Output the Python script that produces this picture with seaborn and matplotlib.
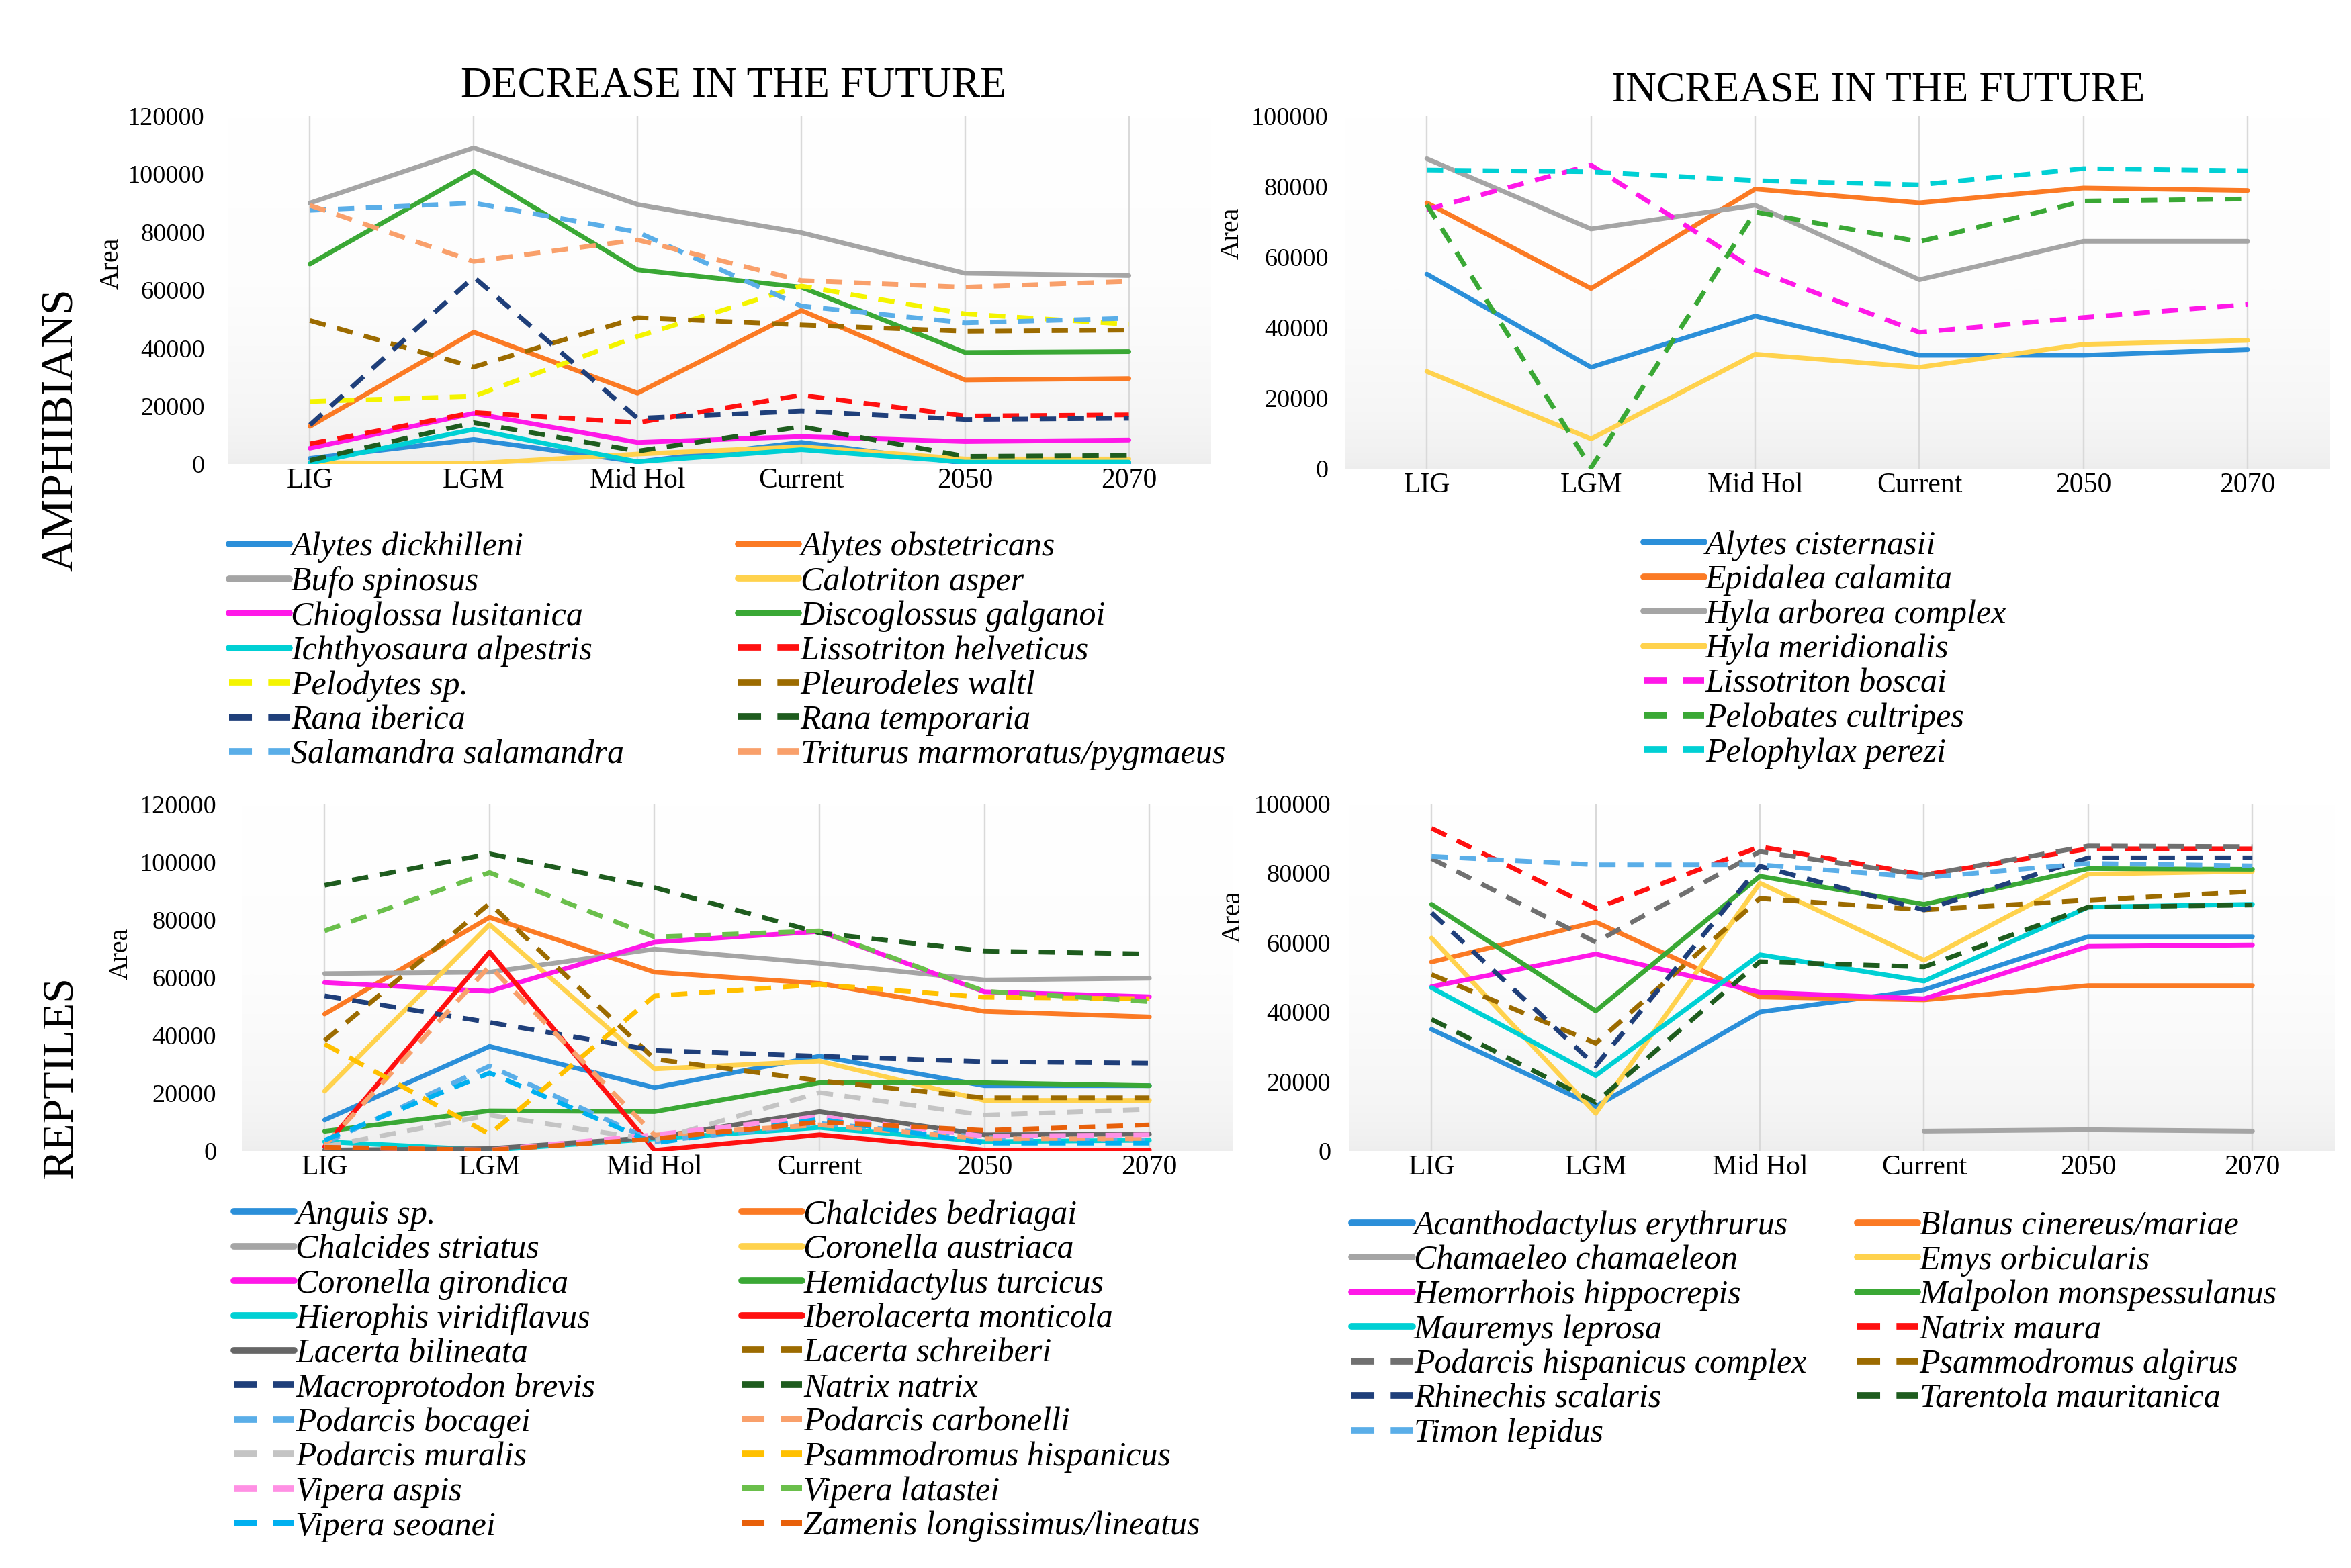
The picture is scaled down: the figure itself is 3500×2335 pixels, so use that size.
import numpy as np
import pandas as pd
import matplotlib
matplotlib.use("Agg")
import matplotlib.pyplot as plt
from matplotlib.lines import Line2D
from matplotlib.colors import LinearSegmentedColormap
import seaborn as sns

# ---------------- data ----------------
PERIODS = ["LIG", "LGM", "Mid Hol", "Current", "2050", "2070"]

# Amphibians - decrease in the future
amph_dec_species = [
    "Alytes dickhilleni", "Alytes obstetricans", "Bufo spinosus", "Calotriton asper",
    "Chioglossa lusitanica", "Discoglossus galganoi", "Ichthyosaura alpestris",
    "Lissotriton helveticus", "Pelodytes sp.", "Pleurodeles waltl", "Rana iberica",
    "Rana temporaria", "Salamandra salamandra", "Triturus marmoratus/pygmaeus",
]
amph_dec_values = [
    [2000, 8500, 800, 7500, 300, 300],
    [13000, 45500, 24500, 53000, 29000, 29500],
    [90000, 109000, 89500, 79800, 65800, 65000],
    [500, 200, 3500, 6000, 1800, 1800],
    [5500, 17500, 7500, 9500, 7800, 8300],
    [69000, 101000, 67000, 61000, 38500, 38800],
    [300, 12000, 800, 5000, 700, 700],
    [7000, 17800, 14300, 23800, 16600, 17000],
    [21600, 23400, 44000, 61400, 51800, 48200],
    [49500, 33500, 50500, 48000, 45800, 46200],
    [13500, 64500, 15800, 18300, 15400, 15800],
    [1300, 14300, 4500, 12900, 2700, 3000],
    [87500, 90000, 80000, 54500, 48700, 50300],
    [89200, 69900, 77300, 63300, 61000, 63000],
]
amph_dec_dashed = [False] * 7 + [True] * 7
amph_dec_colors = ["#2b8fd9", "#fb7a24", "#a5a5a5", "#ffd24d", "#ff18e8", "#3aa835", "#00d0d4",
                   "#ff1010", "#f4f400", "#9c6b00", "#1f3f7a", "#1e5c1e", "#5aaee8", "#f9a06b"]

# Amphibians - increase in the future
amph_inc_species = [
    "Alytes cisternasii", "Epidalea calamita", "Hyla arborea complex", "Hyla meridionalis",
    "Lissotriton boscai", "Pelobates cultripes", "Pelophylax perezi",
]
amph_inc_values = [
    [55200, 28800, 43300, 32200, 32200, 33800],
    [75400, 51100, 79300, 75400, 79600, 78900],
    [87900, 68000, 74700, 53600, 64500, 64500],
    [27600, 8500, 32500, 28800, 35300, 36400],
    [73500, 86100, 56400, 38700, 42900, 46600],
    [74900, 300, 72800, 64400, 75900, 76500],
    [84700, 84200, 81700, 80500, 85100, 84500],
]
amph_inc_dashed = [False] * 4 + [True] * 3
amph_inc_colors = ["#2b8fd9", "#fb7a24", "#a5a5a5", "#ffd24d", "#ff18e8", "#3aa835", "#00d0d4"]

# Reptiles - decrease in the future
rept_dec_species = [
    "Anguis sp.", "Chalcides bedriagai", "Chalcides striatus", "Coronella austriaca",
    "Coronella girondica", "Hemidactylus turcicus", "Hierophis viridiflavus",
    "Iberolacerta monticola", "Lacerta bilineata", "Lacerta schreiberi",
    "Macroprotodon brevis", "Natrix natrix", "Podarcis bocagei", "Podarcis carbonelli",
    "Podarcis muralis", "Psammodromus hispanicus", "Vipera aspis", "Vipera latastei",
    "Vipera seoanei", "Zamenis longissimus/lineatus",
]
rept_dec_values = [
    [10700, 36200, 21900, 32800, 22600, 22600],
    [47400, 80900, 61900, 58000, 48300, 46400],
    [61400, 61900, 69900, 65000, 59200, 59800],
    [20700, 78400, 28400, 31100, 17500, 17500],
    [58300, 55300, 72300, 76000, 55100, 53400],
    [6800, 13900, 13600, 23600, 23600, 22600],
    [3200, 300, 4200, 8100, 3200, 3700],
    [1500, 68900, 200, 5600, 300, 300],
    [300, 800, 4700, 13600, 5600, 5800],
    [38200, 85700, 31800, 24300, 18400, 18400],
    [53700, 44500, 34800, 32800, 30900, 30400],
    [92000, 102900, 91200, 75500, 69200, 68200],
    [2700, 29400, 3200, 9500, 4700, 3700],
    [1800, 64000, 5500, 9000, 4200, 4200],
    [1500, 12400, 3700, 20200, 12400, 14400],
    [37000, 5800, 53700, 57600, 53200, 52700],
    [1300, 300, 5600, 11900, 5100, 5600],
    [76200, 96400, 74100, 76200, 55300, 51700],
    [3700, 27000, 2700, 11000, 2700, 2700],
    [1300, 300, 4200, 10000, 7100, 9000],
]
rept_dec_dashed = [False] * 9 + [True] * 11
rept_dec_colors = ["#2b8fd9", "#fb7a24", "#a5a5a5", "#ffd24d", "#ff18e8", "#3aa835", "#00d0d4",
                   "#ff1010", "#666666", "#9c6b00", "#1f3f7a", "#1e5c1e", "#5aaee8", "#f9a06b",
                   "#c4c4c4", "#ffc000", "#ff90e4", "#6abf4b", "#00b0f0", "#e8600a"]

# Reptiles - increase in the future
rept_inc_species = [
    "Acanthodactylus erythrurus", "Blanus cinereus/mariae", "Chamaeleo chamaeleon",
    "Emys orbicularis", "Hemorrhois hippocrepis", "Malpolon monspessulanus",
    "Mauremys leprosa", "Natrix maura", "Podarcis hispanicus complex",
    "Psammodromus algirus", "Rhinechis scalaris", "Tarentola mauritanica", "Timon lepidus",
]
rept_inc_values = [
    [35000, 12800, 40000, 46400, 61700, 61700],
    [54400, 65900, 44300, 43500, 47600, 47600],
    [np.nan, np.nan, np.nan, 5700, 6100, 5700],
    [61300, 10800, 77100, 54900, 79700, 80500],
    [47300, 56700, 45700, 43800, 58900, 59300],
    [71000, 40300, 79100, 71000, 81300, 81100],
    [47000, 21700, 56500, 48900, 70200, 71000],
    [92900, 69800, 87600, 79500, 87000, 87000],
    [84200, 60100, 86200, 79400, 87800, 87600],
    [50800, 31000, 72700, 69400, 72200, 74700],
    [68600, 24500, 82000, 69400, 84400, 84400],
    [37900, 14000, 54500, 53000, 70200, 70800],
    [84800, 82400, 82400, 78700, 82800, 82100],
]
rept_inc_dashed = [False] * 7 + [True] * 6
rept_inc_colors = ["#2b8fd9", "#fb7a24", "#a5a5a5", "#ffd24d", "#ff18e8", "#3aa835", "#00d0d4",
                   "#ff1010", "#707070", "#9c6b00", "#1f3f7a", "#1e5c1e", "#5aaee8"]

# ---------------- style ----------------
sns.set_theme(style="white")
plt.rcParams["font.family"] = ["Liberation Serif", "DejaVu Serif"]
for k in ("text.color", "axes.labelcolor", "xtick.color", "ytick.color"):
    plt.rcParams[k] = "black"

SERIF = "Liberation Serif"
DASH = (3.5, 2.5)
LW = 2.0

fig = plt.figure(figsize=(14, 9.34), dpi=250)

grad_cmap = LinearSegmentedColormap.from_list("bg", ["#ededed", "#f6f6f6", "#fdfdfd", "#ffffff"])


def make_panel(rect, species, values, dashed, colors, ymax, ytick_pad, area_xy):
    ax = fig.add_axes(rect)
    rows = []
    for sp, vals in zip(species, values):
        for per, v in zip(PERIODS, vals):
            rows.append({"species": sp, "period": per, "area": v})
    df = pd.DataFrame(rows)
    df["pos"] = df["period"].map({p: i for i, p in enumerate(PERIODS)})
    df = df.dropna()
    palette = dict(zip(species, colors))
    dashes = {sp: (DASH if d else "") for sp, d in zip(species, dashed)}

    # gradient background
    grad = np.linspace(0, 1, 256).reshape(-1, 1) ** 0.6
    ax.imshow(grad, extent=[0, 1, 0, 1], transform=ax.transAxes, aspect="auto",
              cmap=grad_cmap, origin="lower", zorder=0)

    sns.lineplot(data=df, x="pos", y="area", hue="species", style="species",
                 hue_order=species, style_order=species, palette=palette, dashes=dashes,
                 estimator=None, sort=True, linewidth=LW, legend=False, ax=ax, zorder=3)

    ax.set_xlim(-0.5, len(PERIODS) - 0.5)
    ax.set_ylim(0, ymax)
    ax.set_xticks(range(len(PERIODS)))
    ax.set_xticklabels(PERIODS, fontsize=12, family=SERIF, color="black")
    step = 20000
    ax.set_yticks(np.arange(0, ymax + 1, step))
    ax.set_yticklabels([f"{int(t)}" for t in np.arange(0, ymax + 1, step)], fontsize=11,
                       family=SERIF, color="black")
    ax.tick_params(axis="y", length=0, pad=ytick_pad)
    ax.tick_params(axis="x", length=0, pad=1.5)
    for x in range(len(PERIODS)):
        ax.axvline(x, color="#d9d9d9", lw=0.7, zorder=1)
    for s in ax.spines.values():
        s.set_visible(False)
    ax.grid(False)
    ax.set_xlabel("")
    ax.set_ylabel("Area", fontsize=11.5, family=SERIF, color="black")
    ax.yaxis.set_label_coords(*area_xy)

    handles = []
    for sp, d, c in zip(species, dashed, colors):
        h = Line2D([0], [0], color=c, lw=LW * 1.4, linestyle=(0, DASH) if d else "-")
        handles.append(h)
    return ax, handles


def add_legend(handles, labels, x, y):
    leg = fig.legend(handles, labels, loc="upper left", bbox_to_anchor=(x, y),
                     bbox_transform=fig.transFigure, frameon=False, ncol=1,
                     prop={"family": SERIF, "style": "italic", "size": 14.4},
                     handlelength=1.8, handletextpad=0.05, labelspacing=0.10,
                     borderaxespad=0, borderpad=0)
    for t in leg.get_texts():
        t.set_color("black")
    return leg


# panels
ax1, h1 = make_panel([0.097, 0.704, 0.418, 0.222], amph_dec_species, amph_dec_values,
                     amph_dec_dashed, amph_dec_colors, 120000, 10, (-0.106, 0.576))
ax2, h2 = make_panel([0.572, 0.701, 0.419, 0.225], amph_inc_species, amph_inc_values,
                     amph_inc_dashed, amph_inc_colors, 100000, 7, (-0.102, 0.667))
ax3, h3 = make_panel([0.103, 0.266, 0.421, 0.221], rept_dec_species, rept_dec_values,
                     rept_dec_dashed, rept_dec_colors, 120000, 11, (-0.11, 0.568))
ax4, h4 = make_panel([0.574, 0.266, 0.419, 0.2215], rept_inc_species, rept_inc_values,
                     rept_inc_dashed, rept_inc_colors, 100000, 8, (-0.105, 0.674))

# legends (two columns, alphabetical row-wise)
add_legend(h1[0::2], amph_dec_species[0::2], 0.0974, 0.661)
add_legend(h1[1::2], amph_dec_species[1::2], 0.314, 0.661)
add_legend(h2, amph_inc_species, 0.699, 0.662)
add_legend(h3[0::2], rept_dec_species[0::2], 0.0994, 0.235)
add_legend(h3[1::2], rept_dec_species[1::2], 0.3154, 0.235)
add_legend(h4[0::2], rept_inc_species[0::2], 0.575, 0.228)
add_legend(h4[1::2], rept_inc_species[1::2], 0.790, 0.228)

# titles
fig.text(0.312, 0.945, "DECREASE IN THE FUTURE", ha="center", va="center", fontsize=18.3, family=SERIF)
fig.text(0.799, 0.942, "INCREASE IN THE FUTURE", ha="center", va="center", fontsize=18.3, family=SERIF)
fig.text(0.026, 0.726, "AMPHIBIANS", ha="center", va="center", rotation=90, fontsize=19.5, family=SERIF)
fig.text(0.026, 0.313, "REPTILES", ha="center", va="center", rotation=90, fontsize=19, family=SERIF)

fig.savefig("out.png", dpi=250, facecolor="white")
